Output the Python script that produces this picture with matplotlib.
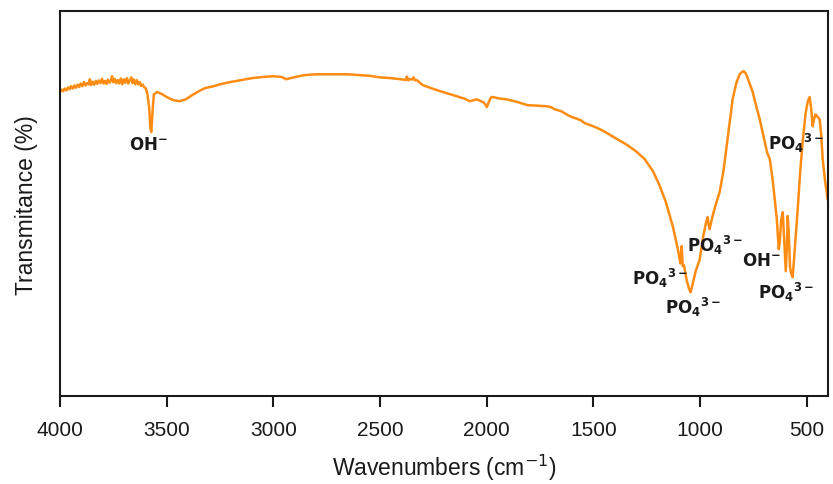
import matplotlib
matplotlib.use("Agg")
import matplotlib.pyplot as plt

ORANGE = "#ff8c12"
INK = "#1a1a1a"

plt.rcParams["font.family"] = ["Liberation Sans", "DejaVu Sans"]
plt.rcParams["mathtext.fontset"] = "dejavusans"

# FTIR spectrum: wavenumber (cm-1) and transmittance (%)
wavenumber = [
    4000, 3992, 3985, 3978, 3970, 3962, 3955, 3948, 3940, 3933, 3925, 3918,
    3910, 3903, 3895, 3888, 3880, 3873, 3866, 3860, 3855, 3848, 3840, 3832,
    3825, 3818, 3810, 3803, 3796, 3789, 3782, 3775, 3768, 3761, 3756, 3750,
    3743, 3736, 3729, 3722, 3715, 3708, 3701, 3694, 3687, 3680, 3673, 3666,
    3660, 3654, 3647, 3640, 3633, 3626, 3620, 3612, 3605, 3598,
    3590, 3582, 3576, 3572, 3566, 3560, 3545, 3520, 3500, 3470, 3440, 3410,
    3380, 3350, 3320, 3280, 3250, 3200, 3150, 3100, 3050, 3000, 2960, 2940,
    2920, 2880, 2850, 2800, 2750, 2700, 2650, 2600, 2550, 2500, 2450, 2400,
    2380, 2374, 2368, 2360, 2350, 2342, 2336, 2328, 2300, 2250, 2200, 2140,
    2100, 2079, 2060, 2046, 2030, 2015, 2005, 1999, 1990, 1980, 1971, 1940,
    1906, 1850, 1810, 1750, 1720, 1700, 1680, 1650, 1620, 1600, 1560, 1540,
    1500, 1460, 1420, 1380, 1340, 1300, 1260, 1220, 1190, 1160, 1128, 1105,
    1092, 1086, 1081, 1075, 1062, 1052, 1044, 1035, 1020, 1001, 985, 970,
    964, 960, 955, 940, 925, 908, 890, 875, 860, 847, 830, 814,
    803, 795, 785, 770, 753, 735, 720, 700, 685, 673, 660, 650,
    640, 631, 626, 620, 612, 605, 598, 592, 589, 584, 578, 572,
    566, 560, 550, 542, 530, 519, 505, 495, 486, 479, 472, 466,
    459, 453, 446, 439, 432, 425, 415, 402,
]
transmittance = [
    79.0, 79.6, 79.2, 79.9, 79.4, 80.2, 79.7, 80.5, 79.9, 80.7, 80.1, 80.9,
    80.3, 81.2, 80.5, 81.6, 80.7, 81.3, 81.0, 82.3, 80.8, 81.7, 80.9, 81.9,
    81.1, 82.0, 81.3, 82.4, 81.2, 81.9, 81.1, 82.2, 81.4, 82.0, 83.1, 81.5,
    82.4, 81.3, 82.1, 81.2, 82.5, 81.0, 82.3, 81.4, 82.6, 81.2, 82.0, 82.8,
    81.3, 82.3, 81.0, 82.1, 81.0, 81.6, 80.6, 80.9, 80.2, 80.0,
    78.4, 75.0, 69.5, 68.6, 74.0, 78.4, 79.0, 78.4, 77.7, 76.9, 76.6, 77.1,
    78.2, 79.2, 80.0, 80.5, 81.0, 81.6, 82.1, 82.6, 82.9, 83.1, 82.9, 82.3,
    82.6, 83.1, 83.4, 83.6, 83.6, 83.6, 83.6, 83.4, 83.2, 82.8, 82.6, 82.3,
    82.1, 83.0, 82.0, 82.4, 82.2, 82.8, 82.0, 82.1, 80.8, 79.8, 78.9, 77.9,
    77.2, 76.6, 76.9, 77.1, 76.7, 76.3, 75.7, 75.1, 76.4, 77.6, 77.7, 77.3,
    77.1, 76.3, 75.6, 75.4, 75.3, 75.1, 74.5, 74.0, 73.0, 72.5, 71.7, 70.9,
    70.1, 69.1, 67.8, 66.5, 65.2, 63.6, 61.6, 58.4, 54.8, 50.4, 44.2, 38.5,
    34.5, 39.0, 33.8, 34.0, 30.0, 28.0, 27.0, 29.0, 32.5, 35.6, 41.5, 45.5,
    46.5, 44.8, 43.4, 47.0, 50.0, 53.0, 58.5, 64.9, 71.5, 77.1, 81.3, 83.6,
    84.2, 84.4, 83.8, 81.6, 79.0, 75.0, 71.9, 67.0, 63.2, 61.6, 56.5, 51.2,
    46.0, 38.2, 40.0, 45.5, 47.8, 40.0, 32.5, 40.0, 46.8, 42.5, 33.5, 31.8,
    30.9, 35.0, 42.5, 48.6, 58.5, 66.0, 73.5, 76.5, 77.7, 74.8, 70.1, 71.8,
    73.2, 72.8, 72.3, 71.9, 68.0, 61.6, 56.5, 51.2,
]

# band assignments: (ion, wavenumber, transmittance) of the label centre
OH = r"$\mathbf{OH}{}^{\mathbf{-}}$"
PO4 = r"$\mathbf{PO}_{\mathbf{4}}{}^{\mathbf{3-}}$"
band_labels = [
    (OH, 3588, 65.5),
    (PO4, 1189, 30.9),
    (PO4, 1034, 23.4),
    (PO4, 931, 39.5),
    (OH, 713, 35.6),
    (PO4, 596, 27.3),
    (PO4, 552, 66.0),
]

fig = plt.figure(figsize=(8.33, 4.85), dpi=100)
ax = fig.add_axes([0.072, 0.181, 0.922, 0.794])

ax.plot(wavenumber, transmittance, color=ORANGE, lw=1.8)

for text, wn, t in band_labels:
    ax.text(wn, t, text, ha="center", va="center", fontsize=12, color=INK)

ax.set_xlim(4000, 400)
ax.set_ylim(0, 100)
ax.set_xticks([4000, 3500, 3000, 2500, 2000, 1500, 1000, 500])
ax.set_yticks([])
ax.tick_params(axis="x", direction="out", length=8, width=1.5,
               labelsize=15, colors=INK, pad=9)
for s in ax.spines.values():
    s.set_linewidth(1.5)
    s.set_color(INK)

ax.set_xlabel("Wavenumbers (cm$^{-1}$)", fontsize=16.5, color=INK, labelpad=9)
ax.set_ylabel("Transmitance (%)", fontsize=16.5, color=INK, labelpad=16)

fig.savefig("out.png", dpi=100, facecolor="white")
